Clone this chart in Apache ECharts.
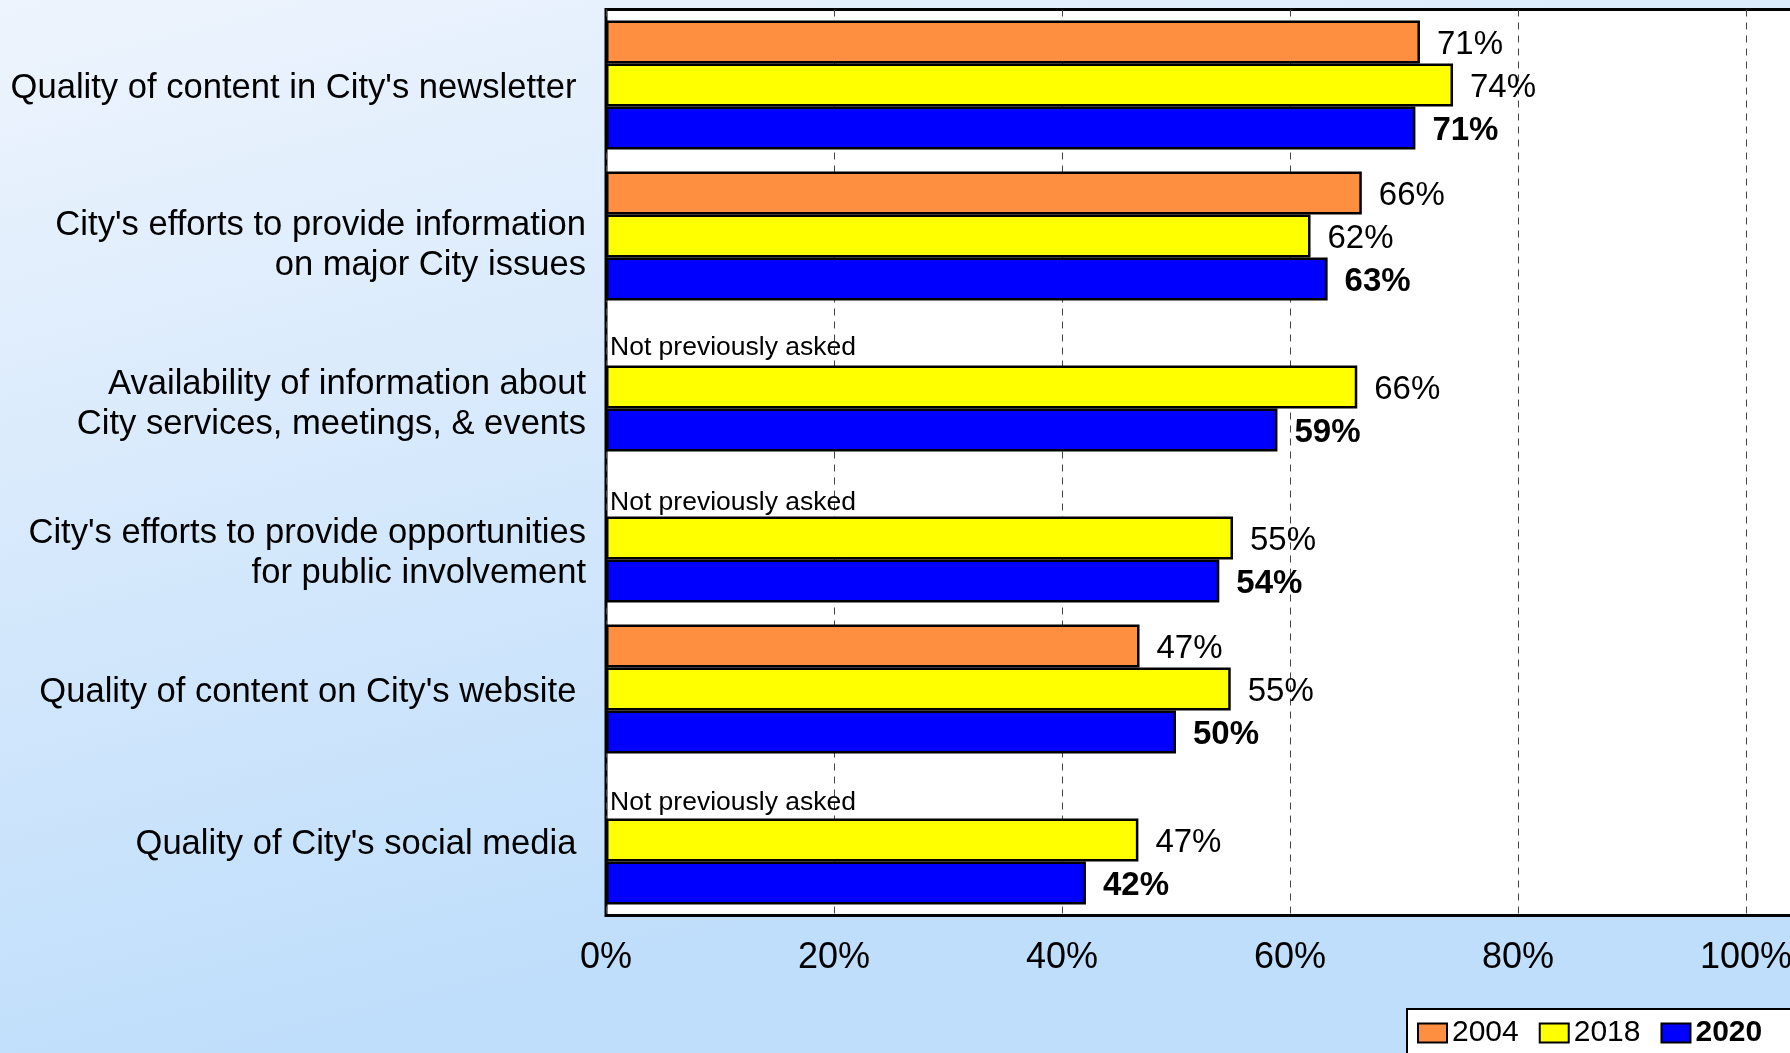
<!DOCTYPE html>
<html>
<head>
<meta charset="utf-8">
<script src="https://cdn.jsdelivr.net/npm/echarts@6/dist/echarts.min.js"></script>
<style>
html,body{margin:0;padding:0;}
#chart{width:1790px;height:1053px;}
</style>
</head>
<body>
<div id="chart"></div>
<script>
// ---- data ----
const categories = [
  "Quality of content in City's newsletter ",
  "City's efforts to provide information\non major City issues",
  "Availability of information about\nCity services, meetings, & events",
  "City's efforts to provide opportunities\nfor public involvement",
  "Quality of content on City's website ",
  "Quality of City's social media "
];
const seriesNames = ["2004", "2018", "2020"];
const values2004 = [71.4, 66.3, null, null, 46.8, null];
const values2018 = [74.3, 61.8, 65.9, 55.0, 54.8, 46.7];
const values2020 = [71.0, 63.3, 58.9, 53.8, 50.0, 42.1];
const notAskedText = "Not previously asked";
const xTicks = [0, 20, 40, 60, 80, 100];

// ---- styles ----
const FONT = "'Liberation Sans', Arial, sans-serif";
const colors = ["#FF8F40", "#FFFF00", "#0000FF"];
const labelPadH = [7, 18, 35, 30, 7, 9];        // vertical nudge of category labels (style only)
const notAskedDy = [0, 0, 4, 8, 0, 6];          // vertical nudge of "not asked" notes (style only)

const chart = echarts.init(document.getElementById('chart'), null, {renderer: 'canvas'});

function pctLabel(p) { return Math.round(p.value) + '%'; }

const data2004 = values2004.map((v, i) => v === null ? {
  value: 0,
  itemStyle: {borderWidth: 0},
  label: {show: true, formatter: notAskedText, fontSize: 26.5, fontWeight: 'normal', distance: 4, offset: [0, notAskedDy[i]]}
} : v);

function barSeries(name, data, color, bold) {
  return {
    name: name,
    type: 'bar',
    data: data,
    barGap: '0%',
    barCategoryGap: '14.6%',
    itemStyle: {color: color, borderColor: '#000', borderWidth: 2.5},
    label: {
      show: true,
      position: 'right',
      distance: 17,
      offset: [0, 3],
      formatter: pctLabel,
      fontSize: 33,
      fontFamily: FONT,
      fontWeight: bold ? 'bold' : 'normal',
      color: '#000'
    },
    emphasis: {disabled: true},
    animation: false
  };
}

const rich = {t: {fontSize: 34.6, lineHeight: 40, fontFamily: FONT, color: '#000', align: 'right'}};
labelPadH.forEach((h, i) => { rich['p' + i] = {fontSize: 1, lineHeight: h, height: h}; });

const option = {
  animation: false,
  backgroundColor: {
    type: 'linear', x: 0, y: 0, x2: 0.15, y2: 1,
    colorStops: [{offset: 0, color: '#EEF4FD'}, {offset: 1, color: '#BFDEFB'}]
  },
  grid: {
    left: 606, top: 9.5, width: 1187, height: 906,
    outerBoundsMode: 'none',
    show: true, backgroundColor: '#fff', borderColor: '#000', borderWidth: 3,
    containLabel: false
  },
  legend: {
    left: 1407, top: 1009, width: 420,
    orient: 'horizontal',
    data: [
      {name: '2004'},
      {name: '2018'},
      {name: '2020', textStyle: {fontWeight: 'bold'}}
    ],
    icon: 'rect',
    itemWidth: 29, itemHeight: 19, itemGap: 20,
    padding: [9, 40, 40, 10],
    backgroundColor: '#fff', borderColor: '#000', borderWidth: 2,
    itemStyle: {borderColor: '#000', borderWidth: 2},
    textStyle: {fontSize: 30, fontFamily: FONT, color: '#000'},
    selectedMode: false
  },
  xAxis: {
    type: 'value',
    min: xTicks[0], max: 1187 / 11.4, interval: xTicks[1] - xTicks[0],
    axisLine: {show: false},
    axisTick: {show: false},
    axisLabel: {
      formatter: v => (xTicks.indexOf(v) >= 0 ? v + '%' : ''),
      fontSize: 36, fontFamily: FONT, color: '#000', margin: 25
    },
    splitLine: {show: true, lineStyle: {color: '#444', width: 1, type: [7, 6]}}
  },
  yAxis: {
    type: 'category',
    inverse: true,
    data: categories,
    axisLine: {show: false},
    axisTick: {show: false},
    axisLabel: {
      fontSize: 34.6, lineHeight: 40, fontFamily: FONT, color: '#000', margin: 20, align: 'right',
      formatter: (value, idx) => '{p' + idx + '| }\n' + value.split('\n').map(l => '{t|' + l + '}').join('\n'),
      rich: rich
    },
    splitLine: {show: false}
  },
  series: [
    barSeries(seriesNames[0], data2004, colors[0], false),
    barSeries(seriesNames[1], values2018, colors[1], false),
    barSeries(seriesNames[2], values2020, colors[2], true)
  ]
};
chart.setOption(option);
</script>
</body>
</html>
